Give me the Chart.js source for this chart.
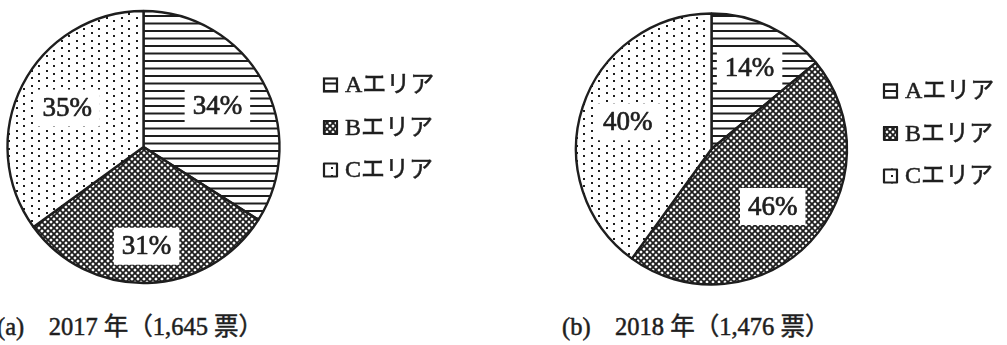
<!DOCTYPE html>
<html>
<head>
<meta charset="utf-8">
<script src="https://cdn.jsdelivr.net/npm/chart.js@4/dist/chart.umd.min.js"></script>
<style>
  html, body { margin: 0; padding: 0; background: #fff; }
  body { width: 1007px; height: 345px; position: relative; overflow: hidden; }
  canvas.pie { position: absolute; top: 0; }
  #pie2017 { left: 0; }
  #pie2018 { left: 560px; }
  .cap {
    position: absolute; top: 312px; line-height: 30px;
    font-family: "Liberation Serif", "Noto Sans CJK JP", serif;
    font-size: 24.5px; color: #1e1e1e; white-space: pre;
    -webkit-text-stroke: 0.5px #1e1e1e;
  }
  #cap2017 { left: -3px; }
  #cap2018 { left: 562px; }
</style>
</head>
<body>
<canvas id="pie2017" class="pie" width="520" height="300"></canvas>
<canvas id="pie2018" class="pie" width="447" height="300"></canvas>
<div id="cap2017" class="cap"></div>
<div id="cap2018" class="cap"></div>
<script>
// Vote share by area (percent), one array per year
const categories = ['Aエリア', 'Bエリア', 'Cエリア'];
const share2017 = [34, 31, 35];
const share2018 = [14, 46, 40];
const panelTags = ['(a)', '(b)'];
const years = [2017, 2018];
const voteTotals = ['1,645', '1,476'];

const INK = '#1e1e1e';

// Monochrome fill patterns: horizontal rules, cross-hatch, dots
function tile(w, h, paint) {
  const c = document.createElement('canvas');
  c.width = w; c.height = h;
  const g = c.getContext('2d');
  g.fillStyle = '#fff';
  g.fillRect(0, 0, w, h);
  g.fillStyle = INK;
  g.strokeStyle = INK;
  paint(g);
  return g.createPattern(c, 'repeat');
}
const rules = tile(8, 15, g => {
  g.fillRect(0, 0, 8, 2);
  g.fillRect(0, 7.5, 8, 2);
});
const hatch = tile(6, 6, g => {
  g.lineWidth = 1.8;
  g.beginPath();
  g.moveTo(-1, -1); g.lineTo(7, 7);
  g.moveTo(-1, 7); g.lineTo(7, -1);
  g.stroke();
});
const dots = tile(15, 15, g => {
  g.fillRect(1, 2, 2, 2);
  g.fillRect(8, 5, 2, 2);
  g.fillRect(1, 10, 2, 2);
  g.fillRect(8, 13, 2, 2);
});
const fills = [rules, hatch, dots];

// Slightly heavier text, closer to a printed serif
function inkText(ctx, text, x, y, weight) {
  ctx.lineWidth = weight;
  ctx.strokeStyle = INK;
  ctx.lineJoin = 'round';
  ctx.strokeText(text, x, y);
  ctx.fillText(text, x, y);
}

// Percentage labels on white boxes inside each slice
const pctLabels = {
  id: 'pctLabels',
  afterDatasetsDraw(chart, args, opts) {
    const ctx = chart.ctx;
    const meta = chart.getDatasetMeta(0);
    const values = chart.data.datasets[0].data;
    ctx.save();
    ctx.font = opts.font;
    ctx.textAlign = 'center';
    ctx.textBaseline = 'middle';
    meta.data.forEach((arc, i) => {
      const p = arc.getProps(['x', 'y', 'startAngle', 'endAngle', 'outerRadius'], true);
      const mid = (p.startAngle + p.endAngle) / 2;
      const r = p.outerRadius * opts.radius[i];
      const px = p.x + Math.cos(mid) * r;
      const py = p.y + Math.sin(mid) * r;
      const text = values[i] + '%';
      const w = ctx.measureText(text).width + opts.padX * 2;
      const h = opts.boxH;
      ctx.fillStyle = '#fff';
      ctx.fillRect(px - w / 2, py - h / 2, w, h);
      ctx.fillStyle = INK;
      inkText(ctx, text, px, py + 1, 0.7);
    });
    ctx.restore();
  }
};

// Legend column with patterned swatches
const areaLegend = {
  id: 'areaLegend',
  afterDraw(chart, args, opts) {
    const ctx = chart.ctx;
    const ds = chart.data.datasets[0];
    ctx.save();
    ctx.font = opts.font;
    ctx.textBaseline = 'middle';
    ctx.textAlign = 'left';
    chart.data.labels.forEach((label, i) => {
      const y = opts.y + i * opts.gap;
      const s = opts.box;
      ctx.fillStyle = ds.backgroundColor[i];
      ctx.fillRect(opts.x, y - s / 2, s, s);
      ctx.lineWidth = 2.2;
      ctx.strokeStyle = INK;
      ctx.strokeRect(opts.x + 1, y - s / 2 + 1, s - 2, s - 2);
      ctx.fillStyle = INK;
      inkText(ctx, label, opts.textX, y + 1, 0.5);
    });
    ctx.restore();
  }
};

function makePie(id, values, frame, labelRadius, legendY) {
  return new Chart(document.getElementById(id), {
    type: 'pie',
    data: {
      labels: categories,
      datasets: [{
        data: values,
        backgroundColor: fills,
        borderColor: INK,
        borderWidth: 2.4,
        hoverOffset: 0,
        offset: 0
      }]
    },
    options: {
      responsive: false,
      animation: false,
      events: [],
      radius: frame.r,
      layout: { padding: frame.pad },
      plugins: {
        legend: { display: false },
        tooltip: { enabled: false },
        pctLabels: {
          radius: labelRadius,
          font: '27px "Liberation Serif", serif',
          padX: 8,
          boxH: 37
        },
        areaLegend: {
          x: 323, textX: 345, y: legendY, gap: 42.5, box: 15,
          font: '24px "Liberation Serif", "Noto Sans CJK JP", serif'
        }
      }
    },
    plugins: [pctLabels, areaLegend]
  });
}

makePie('pie2017', share2017,
  { r: 136, pad: { left: 7, top: 10, right: 240, bottom: 16 } },
  [0.62, 0.73, 0.63], 85);
makePie('pie2018', share2018,
  { r: 135.5, pad: { left: 15, top: 13, right: 159, bottom: 15 } },
  [0.66, 0.62, 0.65], 91);

document.getElementById('cap2017').textContent =
  panelTags[0] + '\u3000' + years[0] + ' 年（' + voteTotals[0] + ' 票）';
document.getElementById('cap2018').textContent =
  panelTags[1] + '\u3000' + years[1] + ' 年（' + voteTotals[1] + ' 票）';
</script>
</body>
</html>
